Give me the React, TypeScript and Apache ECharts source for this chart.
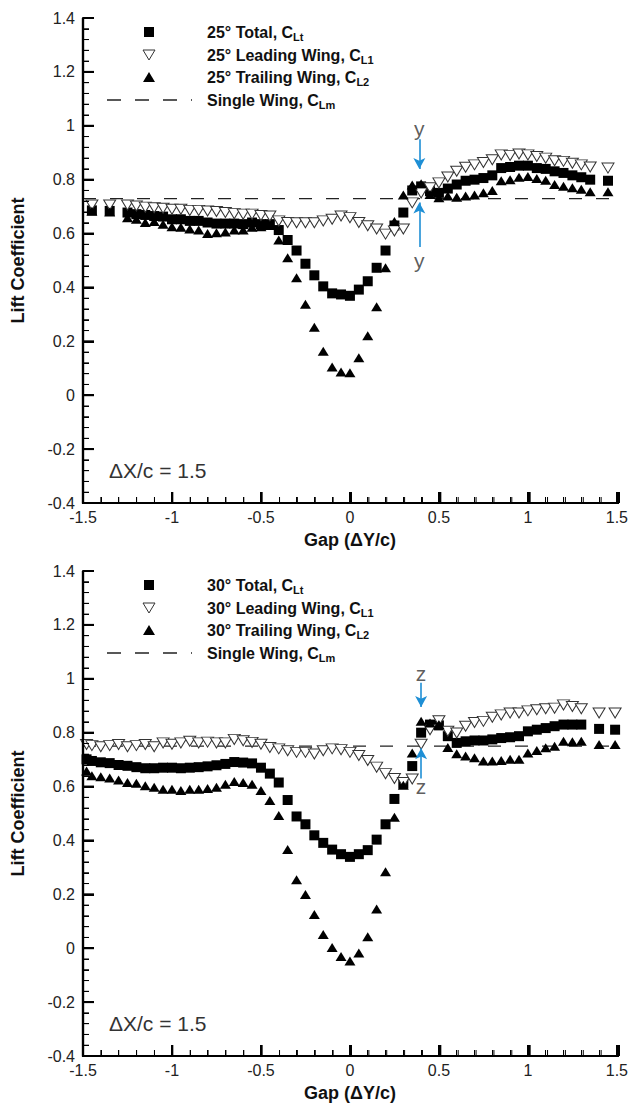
import { useEffect, useRef } from 'react';
import * as echarts from 'echarts';

// ---------- data ----------
const X_25 = [-1.45, -1.35, -1.25, -1.2, -1.15, -1.1, -1.05, -1.0, -0.95, -0.9, -0.85, -0.8, -0.75, -0.7, -0.65, -0.6, -0.55, -0.5, -0.45, -0.4, -0.35, -0.3, -0.25, -0.2, -0.15, -0.1, -0.05, 0, 0.05, 0.1, 0.15, 0.2, 0.25, 0.3, 0.35, 0.4, 0.45, 0.5, 0.55, 0.6, 0.65, 0.7, 0.75, 0.8, 0.85, 0.9, 0.95, 1.0, 1.05, 1.1, 1.15, 1.2, 1.25, 1.3, 1.35, 1.45];
const TOTAL_25 = [0.686, 0.684, 0.678, 0.672, 0.669, 0.665, 0.663, 0.653, 0.653, 0.647, 0.647, 0.641, 0.637, 0.637, 0.637, 0.635, 0.641, 0.635, 0.635, 0.613, 0.576, 0.537, 0.488, 0.445, 0.404, 0.378, 0.374, 0.369, 0.392, 0.423, 0.473, 0.537, 0.63, 0.678, 0.76, 0.775, 0.757, 0.751, 0.767, 0.782, 0.796, 0.8, 0.806, 0.816, 0.843, 0.847, 0.852, 0.852, 0.843, 0.84, 0.831, 0.825, 0.816, 0.809, 0.8, 0.796];
const LEADING_25 = [0.706, 0.706, 0.706, 0.702, 0.698, 0.696, 0.694, 0.69, 0.69, 0.686, 0.686, 0.684, 0.682, 0.678, 0.674, 0.672, 0.672, 0.667, 0.665, 0.647, 0.641, 0.64, 0.64, 0.64, 0.647, 0.653, 0.665, 0.659, 0.641, 0.629, 0.617, 0.598, 0.61, 0.617, 0.714, 0.751, 0.77, 0.788, 0.81, 0.831, 0.846, 0.855, 0.864, 0.874, 0.892, 0.89, 0.895, 0.892, 0.886, 0.88, 0.87, 0.868, 0.861, 0.855, 0.847, 0.843];
const TRAILING_25 = [0.683, 0.68, 0.659, 0.653, 0.641, 0.645, 0.635, 0.625, 0.623, 0.617, 0.613, 0.6, 0.603, 0.606, 0.613, 0.613, 0.623, 0.625, 0.63, 0.576, 0.51, 0.436, 0.338, 0.252, 0.163, 0.105, 0.086, 0.083, 0.139, 0.221, 0.328, 0.473, 0.645, 0.743, 0.78, 0.785, 0.745, 0.733, 0.739, 0.735, 0.739, 0.743, 0.751, 0.76, 0.796, 0.8, 0.809, 0.812, 0.804, 0.798, 0.782, 0.776, 0.77, 0.764, 0.755, 0.755];
const SINGLE_25 = 0.73;

const X_30 = [-1.48, -1.45, -1.4, -1.35, -1.3, -1.25, -1.2, -1.15, -1.1, -1.05, -1.0, -0.95, -0.9, -0.85, -0.8, -0.75, -0.7, -0.65, -0.6, -0.55, -0.5, -0.45, -0.4, -0.35, -0.3, -0.25, -0.2, -0.15, -0.1, -0.05, 0, 0.05, 0.1, 0.15, 0.2, 0.25, 0.3, 0.35, 0.4, 0.45, 0.5, 0.55, 0.6, 0.65, 0.7, 0.75, 0.8, 0.85, 0.9, 0.95, 1.0, 1.05, 1.1, 1.15, 1.2, 1.25, 1.3, 1.4, 1.49];
const TOTAL_30 = [0.701, 0.695, 0.69, 0.687, 0.68, 0.677, 0.672, 0.668, 0.668, 0.67, 0.67, 0.668, 0.67, 0.672, 0.675, 0.679, 0.684, 0.691, 0.689, 0.686, 0.67, 0.648, 0.615, 0.55, 0.489, 0.46, 0.419, 0.391, 0.366, 0.349, 0.339, 0.349, 0.364, 0.403, 0.46, 0.554, 0.611, 0.676, 0.8, 0.83, 0.827, 0.787, 0.762, 0.768, 0.771, 0.771, 0.775, 0.78, 0.783, 0.787, 0.805, 0.811, 0.817, 0.824, 0.83, 0.83, 0.83, 0.814, 0.811];
const LEADING_30 = [0.756, 0.752, 0.748, 0.752, 0.756, 0.748, 0.752, 0.756, 0.748, 0.762, 0.757, 0.762, 0.768, 0.762, 0.765, 0.762, 0.762, 0.775, 0.77, 0.764, 0.757, 0.745, 0.74, 0.733, 0.727, 0.727, 0.721, 0.733, 0.74, 0.737, 0.727, 0.715, 0.697, 0.672, 0.648, 0.63, 0.615, 0.628, 0.757, 0.811, 0.844, 0.805, 0.799, 0.824, 0.838, 0.842, 0.857, 0.866, 0.873, 0.873, 0.881, 0.885, 0.889, 0.891, 0.903, 0.897, 0.889, 0.873, 0.873];
const TRAILING_30 = [0.658, 0.64, 0.636, 0.632, 0.624, 0.615, 0.612, 0.603, 0.597, 0.59, 0.59, 0.585, 0.59, 0.59, 0.593, 0.597, 0.609, 0.619, 0.615, 0.609, 0.585, 0.548, 0.493, 0.366, 0.254, 0.199, 0.125, 0.051, 0.003, -0.031, -0.047, -0.018, 0.043, 0.146, 0.284, 0.486, 0.605, 0.725, 0.842, 0.836, 0.83, 0.745, 0.722, 0.713, 0.707, 0.695, 0.695, 0.697, 0.701, 0.701, 0.725, 0.734, 0.744, 0.75, 0.768, 0.766, 0.768, 0.756, 0.756];
const SINGLE_30 = 0.75;

const X_RANGE = [-1.5, 1.5];
const Y_RANGE = [-0.4, 1.4];
const X_MAJOR = [-1.5, -1, -0.5, 0, 0.5, 1, 1.5];
const Y_MAJOR = [-0.4, -0.2, 0, 0.2, 0.4, 0.6, 0.8, 1.0, 1.2, 1.4];
const MINOR_SPLIT = 5;

const LEGEND_25 = ['25° Total, C', '25° Leading Wing, C', '25° Trailing Wing, C', 'Single Wing, C'];
const LEGEND_30 = ['30° Total, C', '30° Leading Wing, C', '30° Trailing Wing, C', 'Single Wing, C'];
const LEGEND_SUB = ['Lt', 'L1', 'L2', 'Lm'];

const ARROWS_25 = [[0.39, 0.95, 0.84], [0.39, 0.55, 0.715]];
const LABELS_25 = [[0.39, 0.99, 'y'], [0.39, 0.5, 'y']];
const ARROWS_30 = [[0.4, 0.985, 0.895], [0.4, 0.63, 0.742]];
const LABELS_30 = [[0.4, 1.02, 'z'], [0.4, 0.6, 'z']];

const DELTA_TEXT = 'ΔX/c = 1.5';

// ---------- styling / layout ----------
const FONT = '"Liberation Sans", Arial, Helvetica, sans-serif';
const DOWN_TRI = 'path://M0,0L12,0L6,10Z';
const UP_TRI = 'path://M6,0L12,10L0,10Z';
const ARROW_BLUE = '#1e8fd5';
const PANEL_TOPS = [18, 571];
const GRID_LEFT = 83;
const GRID_W = 536;
const GRID_H = 485;
const TICK_MAJOR = 11;
const TICK_MINOR = 6;

function zip(xs: number[], ys: number[]) {
  return xs.map((x, i) => [x, ys[i]]);
}

function withMinors(major: number[]) {
  const out: number[] = [];
  for (let i = 0; i < major.length - 1; i++) {
    const step = (major[i + 1] - major[i]) / MINOR_SPLIT;
    for (let k = 1; k < MINOR_SPLIT; k++) out.push(major[i] + step * k);
  }
  return out;
}

// axis frame (left + bottom) with inward ticks, as markLine segments in data space
function axisMarkLines() {
  const xPerPx = (X_RANGE[1] - X_RANGE[0]) / GRID_W;
  const yPerPx = (Y_RANGE[1] - Y_RANGE[0]) / GRID_H;
  const seg = (a: number[], b: number[], w: number) => [
    { coord: a, lineStyle: { width: w, color: '#000', type: 'solid' } },
    { coord: b },
  ];
  const out: any[] = [];
  out.push(seg([X_RANGE[0], Y_RANGE[0]], [X_RANGE[1], Y_RANGE[0]], 2.2));
  out.push(seg([X_RANGE[0], Y_RANGE[0]], [X_RANGE[0], Y_RANGE[1]], 2.2));
  X_MAJOR.forEach((v) => out.push(seg([v, Y_RANGE[0]], [v, Y_RANGE[0] + TICK_MAJOR * yPerPx], 2)));
  withMinors(X_MAJOR).forEach((v) => out.push(seg([v, Y_RANGE[0]], [v, Y_RANGE[0] + TICK_MINOR * yPerPx], 1)));
  Y_MAJOR.forEach((v) => out.push(seg([X_RANGE[0], v], [X_RANGE[0] + TICK_MAJOR * xPerPx, v], 2)));
  withMinors(Y_MAJOR).forEach((v) => out.push(seg([X_RANGE[0], v], [X_RANGE[0] + TICK_MINOR * xPerPx, v], 1)));
  return out;
}

// same frame as plain graphic lines (pixel layout of the grid)
function axisGraphics(top: number) {
  const px = (v: number) => GRID_LEFT + ((v - X_RANGE[0]) / (X_RANGE[1] - X_RANGE[0])) * GRID_W;
  const py = (v: number) => top + ((Y_RANGE[1] - v) / (Y_RANGE[1] - Y_RANGE[0])) * GRID_H;
  const ln = (x1: number, y1: number, x2: number, y2: number, w: number) => ({
    type: 'line',
    z: 20,
    shape: { x1, y1, x2, y2 },
    style: { stroke: '#000', lineWidth: w },
  });
  const yB = py(Y_RANGE[0]);
  const xL = px(X_RANGE[0]);
  const els: any[] = [
    ln(xL - 1, yB, px(X_RANGE[1]), yB, 2.2),
    ln(xL, yB + 1, xL, py(Y_RANGE[1]), 2.2),
  ];
  X_MAJOR.forEach((v) => els.push(ln(px(v), yB, px(v), yB - TICK_MAJOR, 2)));
  withMinors(X_MAJOR).forEach((v) => els.push(ln(px(v), yB, px(v), yB - TICK_MINOR, 1)));
  Y_MAJOR.forEach((v) => els.push(ln(xL, py(v), xL + TICK_MAJOR, py(v), 2)));
  withMinors(Y_MAJOR).forEach((v) => els.push(ln(xL, py(v), xL + TICK_MINOR, py(v), 1)));
  return els;
}

function panel(
  idx: number,
  xs: number[],
  total: number[],
  leading: number[],
  trailing: number[],
  single: number,
  legendMain: string[],
  arrows: number[][],
  labels: (number | string)[][]
) {
  const top = PANEL_TOPS[idx];
  const names = legendMain.map((m, i) => m + LEGEND_SUB[i]);
  const grid = { left: GRID_LEFT, top, width: GRID_W, height: GRID_H };

  const axisCommon = {
    type: 'value',
    gridIndex: idx,
    nameLocation: 'middle',
    nameTextStyle: { fontFamily: FONT, fontSize: 18, fontWeight: 'bold', color: '#111' },
    axisLine: { show: true, onZero: false, lineStyle: { color: '#000', width: 2 } },
    axisTick: { show: true, inside: true, length: TICK_MAJOR, lineStyle: { color: '#000', width: 2 } },
    minorTick: { show: true, splitNumber: MINOR_SPLIT, length: TICK_MINOR, lineStyle: { color: '#000', width: 1 } },
    splitLine: { show: false },
  };
  const xAxis = {
    ...axisCommon,
    min: X_RANGE[0],
    max: X_RANGE[1],
    interval: 0.5,
    name: 'Gap (ΔY/c)',
    nameGap: 28,
    axisLabel: { fontFamily: FONT, fontSize: 16, color: '#222', margin: 6 },
  };
  const yAxis = {
    ...axisCommon,
    min: Y_RANGE[0],
    max: Y_RANGE[1],
    interval: 0.2,
    name: 'Lift Coefficient',
    nameGap: 56,
    axisLabel: { fontFamily: FONT, fontSize: 16, color: '#222', margin: 8 },
  };

  const series: any[] = [
    {
      name: names[3],
      type: 'line',
      xAxisIndex: idx,
      yAxisIndex: idx,
      data: [[X_RANGE[0], single], [X_RANGE[1], single]],
      symbol: 'none',
      clip: false,
      lineStyle: { color: '#222', width: 1.3, type: [13, 14] },
      z: 1,
      markLine: {
        silent: true,
        symbol: ['none', 'none'],
        label: { show: false },
        lineStyle: { color: '#000', type: 'solid', width: 2 },
        data: axisMarkLines(),
        z: 20,
      },
    },
    {
      name: names[0],
      type: 'scatter',
      xAxisIndex: idx,
      yAxisIndex: idx,
      data: zip(xs, total),
      symbol: 'rect',
      symbolSize: 10,
      itemStyle: { color: '#000', opacity: 1 },
      z: 2,
    },
    {
      name: names[1],
      type: 'scatter',
      xAxisIndex: idx,
      yAxisIndex: idx,
      data: zip(xs, leading),
      symbol: DOWN_TRI,
      symbolSize: [12, 10],
      itemStyle: { color: '#fff', borderColor: '#333', borderWidth: 1, opacity: 1 },
      z: 3,
    },
    {
      name: names[2],
      type: 'scatter',
      xAxisIndex: idx,
      yAxisIndex: idx,
      data: zip(xs, trailing),
      symbol: UP_TRI,
      symbolSize: [11, 9],
      itemStyle: { color: '#000', opacity: 1 },
      z: 4,
    },
    {
      name: 'annotations' + idx,
      type: 'scatter',
      xAxisIndex: idx,
      yAxisIndex: idx,
      data: labels.map((l) => ({ value: [l[0], l[1]], name: l[2] })),
      symbolSize: 1,
      itemStyle: { color: 'rgba(0,0,0,0)' },
      label: { show: true, position: 'inside', formatter: '{b}', fontFamily: FONT, fontSize: 21, color: '#333' },
      silent: true,
      z: 6,
      markLine: {
        silent: true,
        symbol: ['none', 'arrow'],
        symbolSize: [9, 11],
        label: { show: false },
        lineStyle: { color: ARROW_BLUE, width: 1.6, type: 'solid' },
        data: arrows.map((a) => [{ coord: [a[0], a[1]] }, { coord: [a[0], a[2]] }]),
      },
    },
  ];

  // legend drawn as graphic (icons + rich text)
  const off = top - PANEL_TOPS[0];
  const rowYs = [32, 55, 77, 100].map((r) => r + off);
  const cx = 149;
  const rich = {
    t: { fontFamily: FONT, fontSize: 16, fontWeight: 'bold', fill: '#111', lineHeight: 20 },
    s: { fontFamily: FONT, fontSize: 11, fontWeight: 'bold', fill: '#111', lineHeight: 8, verticalAlign: 'bottom' },
  };
  const graphicEls: any[] = [
    { type: 'rect', shape: { x: cx - 5, y: rowYs[0] - 5, width: 10, height: 10 }, style: { fill: '#000' } },
    {
      type: 'polygon',
      shape: { points: [[cx - 6, rowYs[1] - 5], [cx + 6, rowYs[1] - 5], [cx, rowYs[1] + 5]] },
      style: { fill: '#fff', stroke: '#333', lineWidth: 1 },
    },
    {
      type: 'polygon',
      shape: { points: [[cx, rowYs[2] - 5], [cx + 6, rowYs[2] + 5], [cx - 6, rowYs[2] + 5]] },
      style: { fill: '#000' },
    },
    {
      type: 'line',
      shape: { x1: 107, y1: rowYs[3], x2: 192, y2: rowYs[3] },
      style: { stroke: '#222', lineWidth: 1.3, lineDash: [14, 14] },
    },
    ...legendMain.map((m, i) => ({
      type: 'text',
      x: 207,
      y: rowYs[i],
      style: { text: `{t|${m}}{s|${LEGEND_SUB[i]}}`, rich, verticalAlign: 'middle' },
    })),
    {
      type: 'text',
      x: 109,
      y: top + 452,
      style: { text: DELTA_TEXT, fontFamily: FONT, fontSize: 21, fill: '#333', verticalAlign: 'middle' },
    },
    ...axisGraphics(top),
  ];

  return { grid, xAxis, yAxis, series, graphicEls };
}

export default function App() {
  const ref = useRef<HTMLDivElement>(null);
  useEffect(() => {
    document.body.style.margin = '0';
    const chart = echarts.init(ref.current!, null, { renderer: 'svg' });
    const p0 = panel(0, X_25, TOTAL_25, LEADING_25, TRAILING_25, SINGLE_25, LEGEND_25, ARROWS_25, LABELS_25);
    const p1 = panel(1, X_30, TOTAL_30, LEADING_30, TRAILING_30, SINGLE_30, LEGEND_30, ARROWS_30, LABELS_30);
    chart.setOption({
      animation: false,
      backgroundColor: '#fff',
      textStyle: { fontFamily: FONT },
      grid: [p0.grid, p1.grid],
      xAxis: [p0.xAxis, p1.xAxis],
      yAxis: [p0.yAxis, p1.yAxis],
      series: [...p0.series, ...p1.series],
      graphic: [...p0.graphicEls, ...p1.graphicEls],
    });
    return () => chart.dispose();
  }, []);
  return <div ref={ref} style={{ width: 631, height: 1105 }} />;
}
